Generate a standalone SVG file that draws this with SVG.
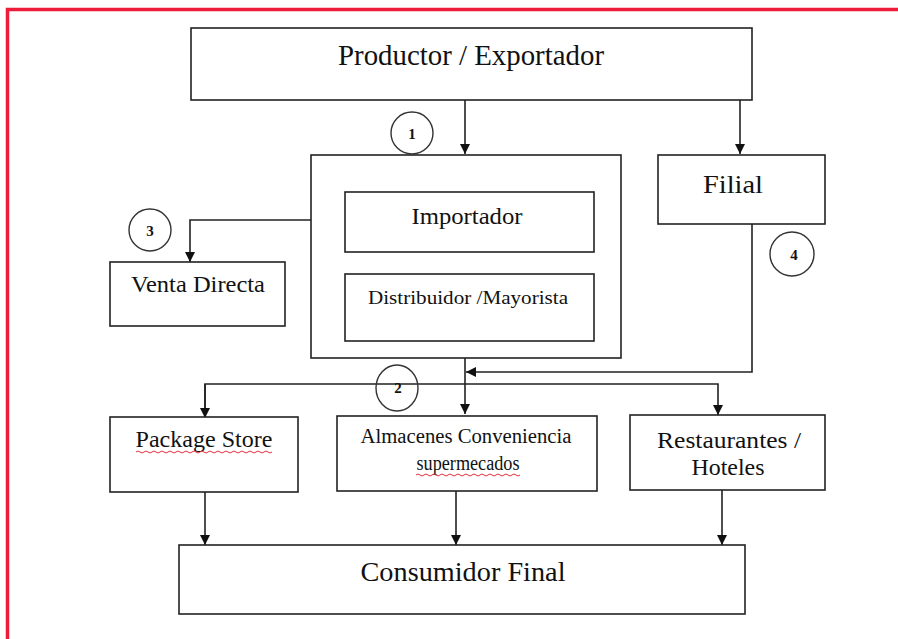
<svg xmlns="http://www.w3.org/2000/svg" width="898" height="639" viewBox="0 0 898 639">
  <style>
    .box { fill: #ffffff; stroke: #222222; stroke-width: 1.6; }
    .wire { fill: none; stroke: #222222; stroke-width: 1.6; }
    .badge { fill: none; stroke: #333333; stroke-width: 1.4; }
    .lbl { font-family: "Liberation Serif", "Times New Roman", serif; fill: #111111; text-anchor: middle; }
    .num { font-family: "Liberation Serif", "Times New Roman", serif; font-weight: bold; font-size: 15px; fill: #111111; text-anchor: middle; }
    .squiggle { fill: none; stroke: #e0303a; stroke-width: 1; }
  </style>
  <defs>
    <marker id="head" viewBox="0 0 10 10" refX="10" refY="5" markerWidth="10" markerHeight="10" markerUnits="userSpaceOnUse" orient="auto">
      <path d="M0,0 L10,5 L0,10 Z" fill="#111111"/>
    </marker>
  </defs>

  <rect width="898" height="639" fill="#ffffff"/>
  <!-- page frame -->
  <path d="M7.5,639 L7.5,9.5 L898,9.5" fill="none" stroke="#ec1c3a" stroke-width="3.5"/>

  <g id="connectors">
    <line class="wire" x1="465" y1="100" x2="465" y2="154" marker-end="url(#head)"/>
    <line class="wire" x1="740" y1="100" x2="740" y2="154" marker-end="url(#head)"/>
    <line class="wire" x1="464" y1="252" x2="464" y2="274" marker-end="url(#head)"/>
    <path class="wire" d="M345,220 L190,220 L190,262" marker-end="url(#head)"/>
    <path class="wire" d="M752,224 L752,372 L466,372" marker-end="url(#head)"/>
    <line class="wire" x1="465" y1="358" x2="465" y2="414" marker-end="url(#head)"/>
    <path class="wire" d="M205,418 L205,384 L718,384 L718,415" marker-end="url(#head)"/>
    <path class="wire" d="M205,384 L205,418" marker-end="url(#head)"/>
    <line class="wire" x1="205" y1="492" x2="205" y2="545" marker-end="url(#head)"/>
    <line class="wire" x1="456" y1="491" x2="456" y2="545" marker-end="url(#head)"/>
    <line class="wire" x1="722" y1="490" x2="722" y2="545" marker-end="url(#head)"/>
  </g>

  <g id="productor">
    <rect class="box" x="191" y="28" width="561" height="72"/>
    <text class="lbl" x="471" y="65" font-size="29" textLength="266" lengthAdjust="spacingAndGlyphs">Productor / Exportador</text>
  </g>

  <g id="canal-importador">
    <rect class="box" x="311" y="155" width="310" height="203"/>
  </g>

  <g id="importador">
    <rect class="box" x="345" y="192" width="249" height="60"/>
    <text class="lbl" x="467" y="224" font-size="24" textLength="111" lengthAdjust="spacingAndGlyphs">Importador</text>
  </g>

  <g id="distribuidor">
    <rect class="box" x="345" y="274" width="249" height="67"/>
    <text class="lbl" x="468" y="304" font-size="19" textLength="200" lengthAdjust="spacingAndGlyphs">Distribuidor /Mayorista</text>
  </g>

  <g id="filial">
    <rect class="box" x="658" y="155" width="167" height="69"/>
    <text class="lbl" x="733" y="193" font-size="26" textLength="60" lengthAdjust="spacingAndGlyphs">Filial</text>
  </g>

  <g id="venta-directa">
    <rect class="box" x="110" y="262" width="175" height="64"/>
    <text class="lbl" x="198" y="292" font-size="23" textLength="134" lengthAdjust="spacingAndGlyphs">Venta Directa</text>
  </g>

  <g id="package-store">
    <rect class="box" x="110" y="417" width="188" height="75"/>
    <text class="lbl" x="204" y="447" font-size="23" textLength="137" lengthAdjust="spacingAndGlyphs">Package Store</text>
    <path class="squiggle" d="M136,452 q2,-2 4,0 t4,0 t4,0 t4,0 t4,0 t4,0 t4,0 t4,0 t4,0 t4,0 t4,0 t4,0 t4,0 t4,0 t4,0 t4,0 t4,0 t4,0 t4,0 t4,0 t4,0 t4,0 t4,0 t4,0 t4,0 t4,0 t4,0 t4,0 t4,0 t4,0 t4,0 t4,0 t4,0 t4,0"/>
  </g>

  <g id="almacenes">
    <rect class="box" x="337" y="416" width="260" height="75"/>
    <text class="lbl" x="466" y="443" font-size="20" textLength="211" lengthAdjust="spacingAndGlyphs">Almacenes Conveniencia</text>
    <text class="lbl" x="468" y="470" font-size="20" textLength="103" lengthAdjust="spacingAndGlyphs">supermecados</text>
    <path class="squiggle" d="M416,475 q2,-2 4,0 t4,0 t4,0 t4,0 t4,0 t4,0 t4,0 t4,0 t4,0 t4,0 t4,0 t4,0 t4,0 t4,0 t4,0 t4,0 t4,0 t4,0 t4,0 t4,0 t4,0 t4,0 t4,0 t4,0 t4,0 t4,0"/>
  </g>

  <g id="restaurantes">
    <rect class="box" x="630" y="415" width="195" height="75"/>
    <text class="lbl" x="729" y="448" font-size="23" textLength="144" lengthAdjust="spacingAndGlyphs">Restaurantes /</text>
    <text class="lbl" x="728" y="475" font-size="23" textLength="73" lengthAdjust="spacingAndGlyphs">Hoteles</text>
  </g>

  <g id="consumidor">
    <rect class="box" x="179" y="545" width="566" height="69"/>
    <text class="lbl" x="463" y="581" font-size="28" textLength="205" lengthAdjust="spacingAndGlyphs">Consumidor Final</text>
  </g>

  <g id="badge-1">
    <circle class="badge" cx="412" cy="133" r="21"/>
    <text class="num" x="412" y="139">1</text>
  </g>
  <g id="badge-2">
    <ellipse class="badge" cx="397" cy="388" rx="21" ry="23"/>
    <text class="num" x="398" y="393">2</text>
  </g>
  <g id="badge-3">
    <circle class="badge" cx="150" cy="230" r="21"/>
    <text class="num" x="150" y="236">3</text>
  </g>
  <g id="badge-4">
    <circle class="badge" cx="792" cy="254" r="22"/>
    <text class="num" x="794" y="260">4</text>
  </g>
</svg>
